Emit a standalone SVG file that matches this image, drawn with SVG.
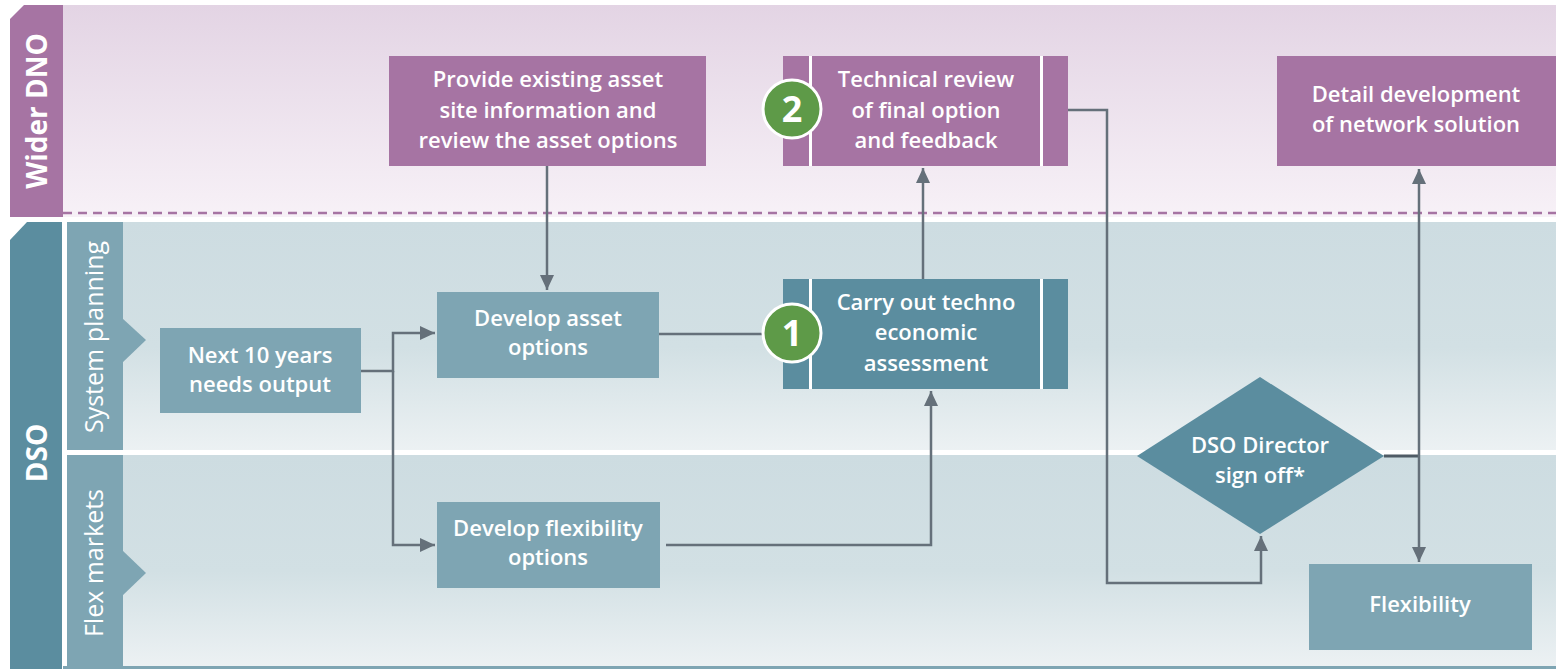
<svg xmlns="http://www.w3.org/2000/svg" width="1556" height="669" viewBox="0 0 1556 669">
<defs>
<linearGradient id="gP" x1="0" y1="0" x2="0" y2="1"><stop offset="0" stop-color="#e3d4e4"/><stop offset="1" stop-color="#f7f1f7"/></linearGradient>
<linearGradient id="gT" x1="0" y1="0" x2="0" y2="1"><stop offset="0" stop-color="#cddce1"/><stop offset="0.55" stop-color="#d2e0e4"/><stop offset="1" stop-color="#ecf1f3"/></linearGradient>
<marker id="ah" markerUnits="userSpaceOnUse" markerWidth="16" markerHeight="16" viewBox="0 0 16 16" refX="15" refY="8" orient="auto-start-reverse"><path d="M0,1 L15,8 L0,15 z" fill="#65707a"/></marker>
<style>
.t{font-family:"Open Sans","Liberation Sans",sans-serif;font-weight:600;font-size:22px;fill:#ffffff;text-anchor:middle}
.lane{font-family:"Open Sans","Liberation Sans",sans-serif;font-weight:500;font-size:25px;fill:#ffffff;text-anchor:middle}
.hd{font-family:"Open Sans","Liberation Sans",sans-serif;font-weight:700;font-size:28px;fill:#ffffff;text-anchor:middle}
.num{font-family:"Open Sans","Liberation Sans",sans-serif;font-weight:700;font-size:36px;fill:#ffffff;text-anchor:middle}
.pur{fill:#a674a3}
.dk{fill:#5b8d9f}
.lt{fill:#7ea5b3}
.c{fill:none;stroke:#65707a;stroke-width:2.5}
.badge{fill:#5e9a48;stroke:#ffffff;stroke-width:3}
</style>
</defs>
<rect width="1556" height="669" fill="#ffffff"/>
<g id="lanes">
<rect x="63" y="5" width="1493" height="212" fill="url(#gP)"/>
<line x1="63" y1="213" x2="1556" y2="213" stroke="#a674a3" stroke-width="2.5" stroke-dasharray="9 6"/>
<polygon points="10,19 24,5 63,5 63,217 10,217" class="pur"/>
<text class="hd" transform="translate(47,111) rotate(-90)">Wider DNO</text>
<rect x="123" y="222" width="1433" height="228" fill="url(#gT)"/>
<rect x="123" y="455" width="1433" height="211" fill="url(#gT)"/>
<rect x="63" y="666" width="1493" height="3" fill="#7ea5b3"/>
<polygon points="10,240 27,222 62,222 62,669 10,669" class="dk"/>
<text class="hd" transform="translate(47,453) rotate(-90)">DSO</text>
<rect x="67" y="222" width="56" height="228" class="lt"/>
<polygon points="122,318 146,340 122,363" class="lt"/>
<text class="lane" transform="translate(103,337) rotate(-90)">System planning</text>
<rect x="67" y="455" width="56" height="211" class="lt"/>
<polygon points="122,550 146,573 122,596" class="lt"/>
<text class="lane" transform="translate(103,563) rotate(-90)">Flex markets</text>
</g>
<g id="connectors">
<path class="c" d="M547,166 V290" marker-end="url(#ah)"/>
<path class="c" d="M361,371 H393 V333 H435" marker-end="url(#ah)"/>
<path class="c" d="M393,371 V545 H435" marker-end="url(#ah)"/>
<path class="c" d="M659,334 H765"/>
<path class="c" d="M666,545 H931 V391" marker-end="url(#ah)"/>
<path class="c" d="M923,279 V168" marker-end="url(#ah)"/>
<path class="c" d="M1068,110 H1107 V583 H1261 V536" marker-end="url(#ah)"/>
<path d="M1384,456 H1419" fill="none" stroke="#4f5b65" stroke-width="3"/>
<path class="c" d="M1419,169 V562" marker-start="url(#ah)" marker-end="url(#ah)"/>
</g>
<g id="n-provide">
<rect x="389" y="56" width="317" height="110" class="pur"/>
<text class="t" x="548" y="87">Provide existing asset</text>
<text class="t" x="548" y="118">site information and</text>
<text class="t" x="548" y="148">review the asset options</text>
</g>
<g id="n-technical">
<rect x="783" y="56" width="285" height="110" class="pur"/>
<rect x="809" y="56" width="3" height="110" fill="#ffffff"/>
<rect x="1040" y="56" width="3" height="110" fill="#ffffff"/>
<text class="t" x="926" y="87">Technical review</text>
<text class="t" x="926" y="118">of final option</text>
<text class="t" x="926" y="148">and feedback</text>
<circle class="badge" cx="792" cy="109" r="29"/>
<text class="num" x="792" y="122">2</text>
</g>
<g id="n-detail">
<rect x="1277" y="56" width="279" height="110" class="pur"/>
<text class="t" x="1416" y="102">Detail development</text>
<text class="t" x="1416" y="132">of network solution</text>
</g>
<g id="n-next">
<rect x="160" y="328" width="201" height="85" class="lt"/>
<text class="t" x="260" y="363">Next 10 years</text>
<text class="t" x="260" y="392">needs output</text>
</g>
<g id="n-asset">
<rect x="437" y="292" width="222" height="86" class="lt"/>
<text class="t" x="548" y="326">Develop asset</text>
<text class="t" x="548" y="355">options</text>
</g>
<g id="n-carry">
<rect x="783" y="279" width="285" height="110" class="dk"/>
<rect x="809" y="279" width="3" height="110" fill="#ffffff"/>
<rect x="1040" y="279" width="3" height="110" fill="#ffffff"/>
<text class="t" x="926" y="310">Carry out techno</text>
<text class="t" x="926" y="340">economic</text>
<text class="t" x="926" y="371">assessment</text>
<circle class="badge" cx="792" cy="333" r="29"/>
<text class="num" x="792" y="346">1</text>
</g>
<g id="n-flexopt">
<rect x="437" y="502" width="223" height="86" class="lt"/>
<text class="t" x="548" y="536">Develop flexibility</text>
<text class="t" x="548" y="565">options</text>
</g>
<g id="n-signoff">
<polygon points="1137,456 1260,377 1384,456 1260,534" class="dk"/>
<text class="t" x="1260" y="453">DSO Director</text>
<text class="t" x="1260" y="483">sign off*</text>
</g>
<g id="n-flexibility">
<rect x="1309" y="564" width="223" height="86" class="lt"/>
<text class="t" x="1420" y="612">Flexibility</text>
</g>
</svg>
